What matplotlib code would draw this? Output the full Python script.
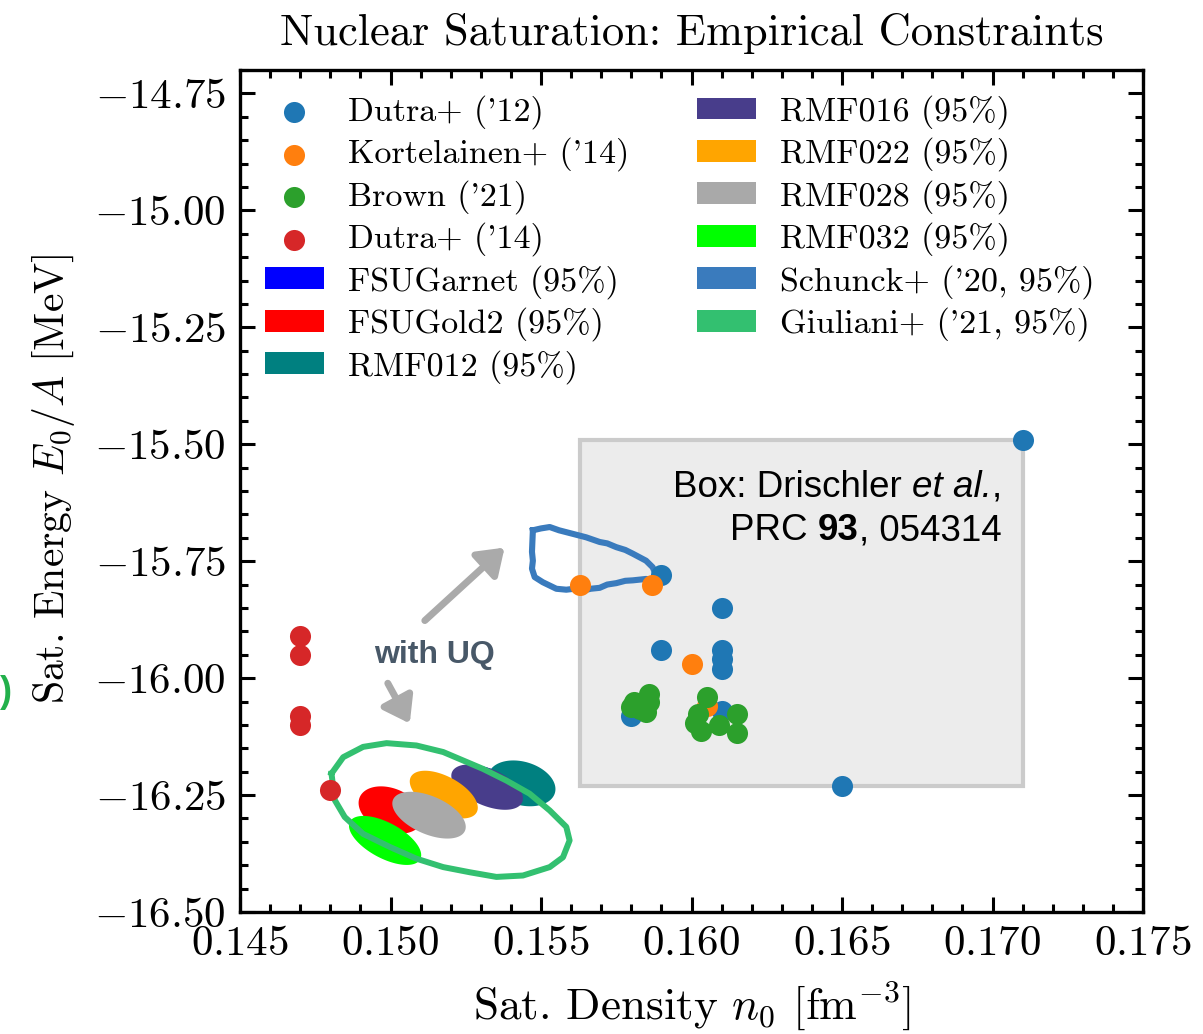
import numpy as np
import matplotlib
matplotlib.use("Agg")
import matplotlib.pyplot as plt
from matplotlib.patches import Patch, Polygon, Rectangle
from matplotlib.offsetbox import TextArea, HPacker, VPacker, AnnotationBbox
from matplotlib.ticker import MultipleLocator, FuncFormatter

plt.rcParams.update({
    "font.family": "serif",
    "font.serif": ["cmr10"],
    "mathtext.fontset": "cm",
    "axes.formatter.use_mathtext": True,
    "axes.unicode_minus": True,
})

# ---- 经验约束: 饱和密度 n0 [fm^-3] 与饱和能 E0/A [MeV] ----
dutra12_n = [0.171, 0.165, 0.159, 0.161, 0.159, 0.161, 0.161, 0.161, 0.158, 0.161]
dutra12_e = [-15.49, -16.23, -15.78, -15.85, -15.94, -15.94, -15.96, -15.98, -16.08, -16.07]

kort14_n = [0.1563, 0.1587, 0.1600, 0.1605]
kort14_e = [-15.80, -15.80, -15.97, -16.06]

brown21_n = [0.1581, 0.1586, 0.1586, 0.1583, 0.1585, 0.1580,
             0.1605, 0.1602, 0.1601, 0.1603, 0.1609, 0.1615, 0.1615]
brown21_e = [-16.051, -16.033, -16.051, -16.065, -16.073, -16.062,
             -16.041, -16.076, -16.097, -16.112, -16.101, -16.076, -16.117]

dutra14_n = [0.147, 0.147, 0.147, 0.147, 0.148]
dutra14_e = [-15.91, -15.95, -16.08, -16.10, -16.24]

# RMF 模型 95% 置信椭圆: 中心, 半宽, 半高, 相关系数
rmf_names = ["FSUGarnet", "FSUGold2", "RMF012", "RMF016", "RMF022", "RMF028", "RMF032"]
rmf_colors = ["#0000ff", "#ff0000", "#008080", "#483d8b", "#ffa500", "#a9a9a9", "#00ff00"]
rmf_n0 = [0.1533, 0.1500, 0.15436, 0.15321, 0.15177, 0.15128, 0.14982]
rmf_e0 = [-16.232, -16.282, -16.225, -16.233, -16.249, -16.293, -16.347]
rmf_dn = [0.0011, 0.00106, 0.00112, 0.00119, 0.00113, 0.00122, 0.0012]
rmf_de = [0.045, 0.0506, 0.049, 0.0485, 0.051, 0.050, 0.0524]
rmf_rho = [-0.5, -0.3, -0.25, -0.5, -0.55, -0.5, -0.6]

# Schunck+ ('20) 95% 轮廓
schunck_n = [0.15473, 0.15500, 0.15529, 0.15560, 0.15584, 0.15620, 0.15650, 0.15695,
             0.15720, 0.15750, 0.15780, 0.15805, 0.15849, 0.15871, 0.15883, 0.15870,
             0.15849, 0.15805, 0.15780, 0.15750, 0.15720, 0.15695, 0.15665, 0.15639,
             0.15610, 0.15584, 0.15551, 0.15506, 0.15479, 0.15470, 0.15473, 0.15470,
             0.15473]
schunck_e = [-15.684, -15.680, -15.677, -15.684, -15.688, -15.694, -15.699, -15.709,
             -15.712, -15.720, -15.726, -15.734, -15.749, -15.763, -15.781, -15.790,
             -15.788, -15.791, -15.792, -15.797, -15.800, -15.807, -15.809, -15.813,
             -15.809, -15.811, -15.809, -15.795, -15.784, -15.766, -15.749, -15.730,
             -15.684]

# Giuliani+ ('21) 95% 轮廓
giuliani_n = [0.14804, 0.14843, 0.14909, 0.14987, 0.15086, 0.15175, 0.15241, 0.15307,
              0.15385, 0.15462, 0.15529, 0.15584, 0.15595, 0.15573, 0.15529, 0.15440,
              0.15352, 0.15263, 0.15175, 0.15086, 0.14998, 0.14909, 0.14848, 0.14815,
              0.14804]
giuliani_e = [-16.204, -16.169, -16.147, -16.139, -16.144, -16.158, -16.176, -16.194,
              -16.219, -16.247, -16.283, -16.318, -16.347, -16.383, -16.404, -16.422,
              -16.425, -16.415, -16.404, -16.386, -16.361, -16.333, -16.297, -16.261,
              -16.204]

# Drischler et al. 的饱和区间
box_n = (0.1563, 0.171)
box_e = (-16.23, -15.49)

c_dutra12 = "#1f77b4"
c_kort = "#ff7f0e"
c_brown = "#2ca02c"
c_dutra14 = "#d62728"
c_schunck = "#3a7bbd"
c_giuliani = "#33c070"


def ellipse_xy(cx, cy, sx, sy, rho, num=200):
    t = np.linspace(0, 2 * np.pi, num)
    x = cx + sx * np.cos(t)
    y = cy + sy * (rho * np.cos(t) + np.sqrt(1 - rho ** 2) * np.sin(t))
    return np.column_stack([x, y])


fig = plt.figure(figsize=(12.03, 10.34), dpi=100)
ax = fig.add_axes([240 / 1203, 1 - 912 / 1034, 903 / 1203, 842 / 1034])

# 约束盒
ax.add_patch(Rectangle((box_n[0], box_e[0]), box_n[1] - box_n[0], box_e[1] - box_e[0],
                       facecolor="#ececec", edgecolor="#cbcbcb", linewidth=3, zorder=1))

# 置信椭圆
for name, col, cx, cy, sx, sy, r in zip(rmf_names, rmf_colors, rmf_n0, rmf_e0,
                                         rmf_dn, rmf_de, rmf_rho):
    poly = Polygon(ellipse_xy(cx, cy, sx, sy, r), closed=True, facecolor=col,
                   edgecolor="none", zorder=2)
    ax.add_patch(poly)

# 轮廓线
ax.plot(schunck_n, schunck_e, color=c_schunck, lw=4.4, zorder=3, solid_joinstyle="round")
ax.plot(giuliani_n, giuliani_e, color=c_giuliani, lw=4.3, zorder=3, solid_joinstyle="round")

ms = 230
s1 = ax.scatter(dutra12_n, dutra12_e, s=ms, color=c_dutra12, lw=0, zorder=4, label="Dutra+ ('12)")
s2 = ax.scatter(kort14_n, kort14_e, s=ms, color=c_kort, lw=0, zorder=4, label="Kortelainen+ ('14)")
s3 = ax.scatter(brown21_n, brown21_e, s=ms, color=c_brown, lw=0, zorder=4, label="Brown ('21)")
s4 = ax.scatter(dutra14_n, dutra14_e, s=ms, color=c_dutra14, lw=0, zorder=4, label="Dutra+ ('14)")

handles = [s1, s2, s3, s4]
handles += [Patch(facecolor=c, label=f"{n} (95%)") for n, c in zip(rmf_names, rmf_colors)]
handles += [Patch(facecolor=c_schunck, label="Schunck+ ('20, 95%)"),
            Patch(facecolor=c_giuliani, label="Giuliani+ ('21, 95%)")]

leg = ax.legend(handles=handles, ncol=2, loc="upper left", frameon=False,
                fontsize=24.5, labelspacing=0.25, handlelength=1.74, handleheight=0.6,
                handletextpad=0.7, columnspacing=2.0, scatterpoints=1,
                borderaxespad=0.33, bbox_to_anchor=(0.0, 1.0))

# 文献标注
fs_ref = 26.5
line1 = HPacker(children=[
    TextArea("Box: Drischler ", textprops=dict(family="Liberation Sans", size=fs_ref)),
    TextArea("et al.", textprops=dict(family="Liberation Sans", size=fs_ref, style="italic")),
    TextArea(",", textprops=dict(family="Liberation Sans", size=fs_ref)),
], align="baseline", pad=0, sep=0)
line2 = HPacker(children=[
    TextArea("PRC ", textprops=dict(family="Liberation Sans", size=fs_ref)),
    TextArea("93", textprops=dict(family="Liberation Sans", size=fs_ref, weight="bold")),
    TextArea(", 054314", textprops=dict(family="Liberation Sans", size=fs_ref)),
], align="baseline", pad=0, sep=0)
ref_box = VPacker(children=[line1, line2], align="right", pad=0, sep=6)
ax.add_artist(AnnotationBbox(ref_box, (0.1703, -15.555), xycoords="data",
                             box_alignment=(1, 1), frameon=False, zorder=5))

# "with UQ" 及箭头
ax.text(0.15147, -15.951, "with UQ", family="Liberation Sans", weight="bold",
        fontsize=23, color="#485868", ha="center", va="center", zorder=5)
arrow_kw = dict(arrowstyle="-|>,head_length=0.5,head_width=0.35", color="#aaaaaa",
                lw=5, mutation_scale=30, shrinkA=0, shrinkB=0)
ax.annotate("", xy=(0.15379, -15.721), xytext=(0.15114, -15.877), arrowprops=arrow_kw, zorder=5)
ax.annotate("", xy=(0.15064, -16.097), xytext=(0.14991, -16.011), arrowprops=arrow_kw, zorder=5)

fig.text(6 / 1203, 1 - 692 / 1034, ")", family="Liberation Sans", weight="bold",
         fontsize=26, color="#22b04b", ha="center", va="center")

# 坐标轴
ax.set_xlim(0.145, 0.175)
ax.set_ylim(-16.5, -14.7)
ax.xaxis.set_major_locator(MultipleLocator(0.005))
ax.xaxis.set_minor_locator(MultipleLocator(0.001))
ax.yaxis.set_major_locator(MultipleLocator(0.25))
ax.yaxis.set_minor_locator(MultipleLocator(0.05))
ax.xaxis.set_major_formatter(FuncFormatter(lambda v, p: f"${v:.3f}$"))
ax.yaxis.set_major_formatter(FuncFormatter(lambda v, p: f"${v:.2f}$"))
ax.tick_params(which="both", direction="in", top=True, right=True, width=2.2, labelsize=31)
ax.tick_params(which="major", length=11, pad=10)
ax.tick_params(which="minor", length=6)
for sp in ax.spines.values():
    sp.set_linewidth(2.4)

ax.set_xlabel(r"Sat. Density $n_0$ [fm$^{-3}$]", fontsize=32.5, labelpad=12)
ax.set_ylabel(r"Sat. Energy $E_0/A$ [MeV]", fontsize=30)
ax.yaxis.set_label_coords(-0.181, 0.515)
ax.set_title("Nuclear Saturation: Empirical Constraints", fontsize=32, pad=18)

fig.savefig("out.png", dpi=100)
